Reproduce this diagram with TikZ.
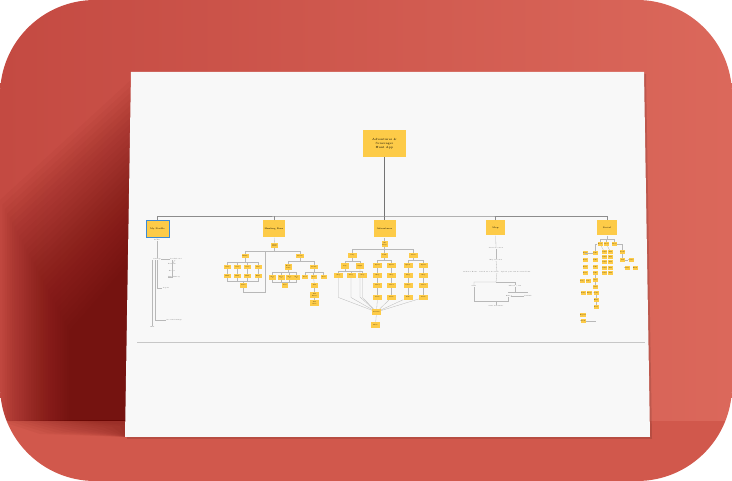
\documentclass[tikz,border=0pt]{standalone}
\usetikzlibrary{calc,arrows.meta}
\definecolor{wallleft}{HTML}{C44A42}
\definecolor{walllight}{HTML}{DB685B}
\definecolor{floorred}{HTML}{D1584C}
\definecolor{shadowred}{HTML}{5A0000}
\definecolor{paper}{HTML}{F8F8F8}
\definecolor{note}{HTML}{FDCB48}
\definecolor{linegray}{HTML}{B8B8B8}
\definecolor{selblue}{HTML}{3C8AD6}

\begin{document}
\begin{tikzpicture}[x=1pt,y=-1pt,
  box/.style={fill=note,inner sep=0pt,align=center,font=\fontsize{1.4}{1.6}\selectfont},
  head/.style={box,font=\fontsize{2.3}{2.6}\selectfont},
  lbl/.style={inner sep=0.3pt,font=\fontsize{1.5}{1.7}\selectfont,text=black!70},
  wire/.style={draw=linegray,line width=0.3pt},
  trunk/.style={draw=black!55,line width=0.4pt}]
  \useasboundingbox (0,0) rectangle (732,481);
  % backdrop
  \fill[white] (0,0) rectangle (732,481);
  \begin{scope}
    \clip[rounded corners=95pt] (0,0) rectangle (732,481);
    \shade[left color=wallleft,right color=walllight] (0,0) rectangle (732,421);
    \fill[floorred] (0,421) rectangle (732,481);
    \foreach \i in {0,...,29}
      \fill[shadowred,opacity=0.035] (131,{80+\i*6.2}) -- ({\i*2.4},{200+\i*4.5})
        -- ({\i*2.4},421) -- (128,421) -- cycle;
    \foreach \i in {0,...,11}
      \fill[shadowred,opacity=0.045] ({\i*8},421) -- (126,421) -- (126,437)
        -- ({\i*8+40},{434-\i*0.8}) -- cycle;
  \end{scope}
  % poster
  \fill[black,opacity=0.12] (133,74) -- (646,74) -- (652,439) -- (127,439) -- cycle;
  \fill[paper] (131,72) -- (644,72) -- (650,437) -- (125,437) -- cycle;
  \draw[black!22,line width=0.7pt] (137,342) -- (645,342);

  % root and main sections
  \node[box,minimum width=43,minimum height=27,font=\fontsize{3}{4}\selectfont] (app) at (384.5,143.5) {Adventures \&\\Scavenger\\Hunt App};
  \node[head,minimum width=23,minimum height=17,draw=selblue,line width=0.8pt] (prof) at (157.5,229) {My Profile};
  \node[head,minimum width=22,minimum height=17] (hunt) at (274,229) {Hunting Zone};
  \node[head,minimum width=22,minimum height=17] (adv) at (384.5,229) {Adventures};
  \node[head,minimum width=19,minimum height=15] (map) at (495.5,228) {Map};
  \node[head,minimum width=20,minimum height=15] (soc) at (607,228) {Social};
  \coordinate (bus) at (384.5,216);
  \draw[trunk] (app) -- (adv);
  \draw[wire,draw=black!45] (prof) |- (bus) -| (soc);
  \draw[wire,draw=black!45] (hunt) -- (hunt |- bus);
  \draw[wire,draw=black!45] (map) -- (map |- bus);

  % my profile
  \node[lbl] (pf) at (157,240) {Profile};
  \node[lbl] (pset) at (157,259) {Settings};
  \node[lbl] (plead) at (176,259) {Leaderboard};
  \node[lbl] (prew) at (172,264) {Rewards};
  \node[lbl] (pbdg) at (172,271) {Badges};
  \node[lbl] (phis) at (174,277) {Hunt History};
  \node[lbl] (plog) at (166,288) {Logout};
  \node[lbl] (pacc) at (174,320) {Account Settings};
  \node[lbl] (pend) at (152.5,327) {Exit};
  \draw[wire] (prof) -- (pf); \draw[wire] (pf) -- (pset); \draw[wire] (pset) -- (plead);
  \draw[wire] (plead) -- (prew); \draw[wire] (prew) -- (pbdg);
  \draw[wire] ([xshift=-4pt]plead.south) |- (phis);
  \draw[wire] (pend |- pset.south) -- (pend);
  \draw[wire] ([xshift=-2pt]pset.south) |- (pacc);
  \draw[wire] (pset.south) |- (plog);

  % hunting zone
  \node[box,minimum width=7,minimum height=5] (hz) at (274.5,245.5) {Start\\Hunt};
  \node[box,minimum width=7,minimum height=4] (hzl) at (245,256) {Hunts};
  \node[box,minimum width=8,minimum height=4] (hzr) at (300,256) {Create};
  \coordinate (hzj) at (274.5,251);
  \draw[wire] (hunt) -- (hz); \draw[wire] (hz) -- (hzj) -| (hzl); \draw[wire] (hzj) -| (hzr);
  \node[box,minimum width=7,minimum height=5] (hzc) at (243.5,285.5) {Done};
  \coordinate (hzlb) at (245,262); \coordinate (hzcb) at (243.5,281);
  \draw[wire] (hzl) -- (hzlb); \draw[wire] (hzcb) -- (hzc);
  \foreach \x [count=\i] in {227.5,237.5,247.5,258} {
    \node[box,minimum width=7,minimum height=4] (hza\i) at (\x,267) {Clue};
    \node[box,minimum width=7,minimum height=4] (hzb\i) at (\x,276) {Hint};
    \draw[wire] (hza\i) -- (hzb\i);
    \draw[wire] (hza\i) |- (hzlb);
    \draw[wire] (hzb\i) |- (hzcb);
  }
  \draw[wire] (hzc) -- ++(0,7) -| (265,251);
  \node[box,minimum width=7,minimum height=6] (hzd) at (288.5,267) {Route\\Plan};
  \node[box,minimum width=8,minimum height=4] (hzg) at (314,267) {Items};
  \coordinate (hzrb) at (300,261);
  \draw[wire] (hzr) -- (hzrb); \draw[wire] (hzd) |- (hzrb); \draw[wire] (hzg) |- (hzrb);
  \node[box,minimum width=6,minimum height=5] (hzf) at (285,285.5) {Save};
  \coordinate (hzdb) at (288.5,272); \coordinate (hzfb) at (285,282);
  \draw[wire] (hzd) -- (hzdb); \draw[wire] (hzfb) -- (hzf);
  \foreach \x [count=\i] in {272.5,281,289.5,296.5} {
    \node[box,minimum width=7,minimum height=5] (hze\i) at (\x,277.5) {Step\\\i};
    \draw[wire] (hze\i) |- (hzdb);
    \draw[wire] (hze\i) |- (hzfb);
  }
  \coordinate (hzgb) at (314,272);
  \draw[wire] (hzg) -- (hzgb);
  \foreach \x [count=\i] in {305,313.5,323.5} {
    \node[box,minimum width=6,minimum height=4] (hzk\i) at (\x,277) {Tool};
    \draw[wire] (hzk\i) |- (hzgb);
  }
  \node[box,minimum width=7,minimum height=5] (hzh) at (314.5,285.5) {Add};
  \node[box,minimum width=9,minimum height=6] (hzi) at (314.5,295) {Add\\Photo};
  \node[box,minimum width=9,minimum height=6] (hzm) at (314.5,303) {Add\\Note};
  \draw[wire] (hzk2) -- (hzh); \draw[wire] (hzh) -- (hzi); \draw[wire] (hzi) -- (hzm);

  % adventures
  \node[box,minimum width=6,minimum height=6] (ad) at (384.5,244) {All\\Trips};
  \coordinate (adj) at (384.5,249);
  \node[box,minimum width=9,minimum height=5] (ada) at (352.5,255.5) {City};
  \node[box,minimum width=7,minimum height=5] (adb) at (384.5,255.5) {Park};
  \node[box,minimum width=9,minimum height=5] (adc) at (413.5,255.5) {Trail};
  \draw[wire] (adv) -- (ad); \draw[wire] (ad) -- (adj) -| (ada); \draw[wire] (adj) -| (adc); \draw[wire] (adj) -- (adb);
  \node[box,minimum width=8,minimum height=6] (ada1) at (345,266) {Day};
  \node[box,minimum width=8,minimum height=6] (ada2) at (360,266) {Night};
  \coordinate (adab) at (352.5,261);
  \draw[wire] (ada) -- (adab); \draw[wire] (ada1) |- (adab); \draw[wire] (ada2) |- (adab);
  \node[box,minimum width=9,minimum height=6] (adx) at (376.5,312) {Results};
  \node[box,minimum width=9,minimum height=6] (ady) at (375.5,325) {Share};
  \draw[wire] (adx) -- (ady);
  \coordinate (ada1b) at (345,271);
  \draw[wire] (ada1) -- (ada1b);
  \foreach \x [count=\i] in {338.5,351,362.5} {
    \node[box,minimum width=9,minimum height=5] (adr\i) at (\x,275.5) {Stop};
    \draw[wire] (adr\i) |- (ada1b);
    \draw[wire] (adr\i) -- ++(0,22) -- (adx);
  }
  \draw[wire] (ada2) -- ++(0,31) -- (adx);
  \foreach \x/\p [count=\k] in {377.5/adb,391.5/adb,408/adc,423.5/adc} {
    \node[box,minimum width=9,minimum height=5] (col\k a) at (\x,265.5) {Quest};
    \node[box,minimum width=9,minimum height=5] (col\k b) at (\x,275.5) {Map};
    \node[box,minimum width=9,minimum height=5] (col\k c) at (\x,285.5) {Clues};
    \node[box,minimum width=9,minimum height=5] (col\k d) at (\x,297.5) {Prize};
    \draw[wire] (\p) |- ($(\p.south)!0.5!(col\k a.north)$) -| (col\k a);
    \draw[wire] (col\k a) -- (col\k b); \draw[wire] (col\k b) -- (col\k c); \draw[wire] (col\k c) -- (col\k d);
    \draw[wire] (col\k d) -- (adx);
  }

  % map
  \node[lbl] (mp1) at (496,248) {Create Location};
  \node[lbl] (mp2) at (496,260) {Map Selection};
  \node[lbl] (mp3) at (497,272) {Follow a Route \quad Search for a Location \quad Upload your own Location Point};
  \node[lbl] (mp4) at (474,286) {Start};
  \node[lbl] (mp5) at (515,286) {Thread / Join};
  \node[lbl] (mp6) at (508,296) {Edit};
  \node[lbl] (mp7) at (528,296) {Publish};
  \node[lbl] (mp8) at (496,306) {Start Adventure};
  \coordinate (mpj) at (496,282); \coordinate (mpk) at (496,301);
  \draw[wire] (map) -- (mp1); \draw[wire] (mp1) -- (mp2); \draw[wire] (mp2) -- (mp3);
  \draw[wire] (mp3) -- (mpj) -| (mp4); \draw[wire] (mpj) -| (mp5);
  \draw[wire] (mp4) |- (mpk); \draw[wire] (mp6) |- (mpk); \draw[wire] (mpk) -- (mp8);
  \draw[wire] (mp5) -- (mp5 |- 0,292);
  \draw[wire] (mp6 |- 0,292) -- (mp7 |- 0,292);
  \draw[wire,-{Stealth[length=1.5pt]}] (mp7) -- (mp6);

  % social
  \coordinate (scj) at (607,239);
  \foreach \x [count=\i] in {600,606.5,614.5} {
    \node[box,minimum width=5,minimum height=4] (sc\i) at (\x,244) {Feed};
    \draw[wire] (sc\i) |- (scj);
  }
  \draw[wire] (soc) -- (scj);
  \foreach \y [count=\i] in {253,260,267,273} {
    \node[box,minimum width=5,minimum height=4] (sa\i) at (585,\y) {Post};
    \node[box,minimum width=5,minimum height=4] (sb\i) at (595.5,\y) {Like};
  }
  \foreach \y [count=\i] in {252,257,262,268,273} {
    \node[box,minimum width=5,minimum height=4] (sd\i) at (604.5,\y) {Chat};
    \node[box,minimum width=5,minimum height=4] (se\i) at (610.5,\y) {Add};
  }
  \draw[wire] (sc1) -- (sd1); \draw[wire] (sc2) -- (se1);
  \draw[wire] (sc1) -| (sb1); \draw[wire] (sb1) -| (sa1);
  \node[box,minimum width=5,minimum height=4] (sf1) at (622.5,252) {Team};
  \node[box,minimum width=5,minimum height=4] (sf2) at (622.5,260) {Join};
  \node[box,minimum width=5,minimum height=4] (sf3) at (631,260) {Leave};
  \node[box,minimum width=5,minimum height=4] (sf4) at (627,268) {Invite};
  \node[box,minimum width=5,minimum height=4] (sf5) at (635,268) {Kick};
  \draw[wire] (sc3) -| (sf1); \draw[wire] (sf1) -- (sf2); \draw[wire] (sf2) -- (sf3);
  \node[box,minimum width=5,minimum height=4] (sg1) at (582,281) {Tag};
  \node[box,minimum width=5,minimum height=4] (sg2) at (588,281) {Pin};
  \node[box,minimum width=5,minimum height=4] (sg3) at (595.5,280) {Save};
  \node[box,minimum width=5,minimum height=4] (sg4) at (595.5,287) {Send};
  \node[box,minimum width=5,minimum height=4] (sh1) at (583,293) {Text};
  \node[box,minimum width=5,minimum height=4] (sh2) at (589.5,293) {Image};
  \node[box,minimum width=5,minimum height=4] (sh3) at (596,293) {Video};
  \node[box,minimum width=5,minimum height=4] (sh4) at (596,300) {Edit};
  \node[box,minimum width=5,minimum height=4] (sh5) at (596,307) {Post};
  \node[box,minimum width=5,minimum height=4] (si1) at (583,315) {Report};
  \node[box,minimum width=5,minimum height=4] (si2) at (583,321) {Block};
  \draw[wire] (sb4) -- (sg3); \draw[wire] (sg3) -- (sg4);
  \draw[wire] (sh3) -- (sh4); \draw[wire] (sh4) -- (sh5);
  \draw[wire] (si2) -- (sh5 |- si2);
\end{tikzpicture}
\end{document}
